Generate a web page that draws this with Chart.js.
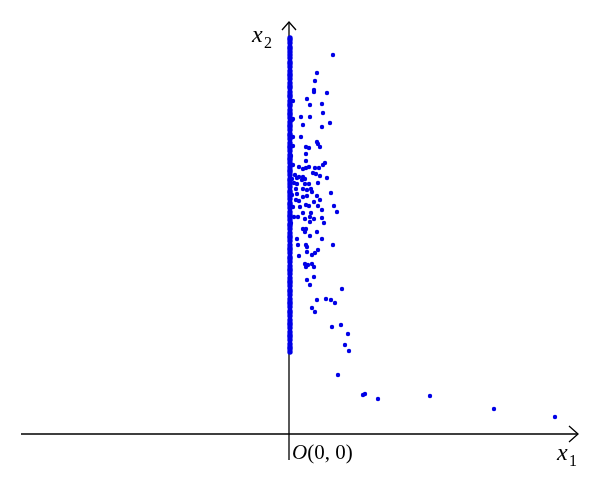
<!DOCTYPE html>
<html>
<head>
<meta charset="utf-8">
<script src="https://cdn.jsdelivr.net/npm/chart.js@4/dist/chart.umd.min.js"></script>
<style>
  html, body { margin: 0; padding: 0; background: #ffffff; }
  canvas { display: block; }
</style>
</head>
<body>
<canvas id="c" width="600" height="482"></canvas>
<script>
// ---- Data (x1, x2) ----
const scatterX1 = [4.4, 2.8, 2.6, 2.5, 2.5, 3.8, 0.4, 1.8, 2.1, 3.3, 0.3, 0.4, 1.2, 2.1, 3.4, 1.4, 3.3, 4.1,
  0.4, 1.2, 2.8, 2.9, 3.1, 0.4, 1.7, 2.0, 1.7, 0.2, 1.7, 3.6, 3.4, 0.4, 1.0, 1.4, 1.7, 2.0, 2.6, 3.0,
  2.4, 2.7, 3.1, 3.8, 0.6, 1.0, 1.4, 1.6, 0.3, 0.8, 1.3, 0.5, 0.8, 1.6, 2.0, 2.9, 0.7, 1.4, 1.8, 2.2,
  0.3, 0.8, 1.4, 1.8, 2.3, 2.8, 2.5, 4.2, 3.1, 0.7, 1.0, 1.7, 2.0, 1.1, 0.4, 2.9, 4.5, 1.4, 2.2, 2.1,
  0.9, 0.5, 3.3, 4.8, 1.6, 2.5, 3.3, 3.5, 2.1, 0.2, 1.4, 1.7, 1.6, 2.8, 2.1, 0.8, 3.3, 0.9, 1.7, 1.8,
  4.4, 2.9, 2.6, 2.3, 1.8, 1.0, 1.6, 1.9, 1.7, 2.3, 2.5, 1.8, 2.5, 2.1, 5.3, 2.8, 3.7, 4.2, 4.6, 2.3,
  2.6, 4.3, 5.2, 5.9, 5.6, 6.0, 4.9, 7.4, 7.6, 8.9, 14.1, 20.5, 26.6];
const scatterX2 = [37.9, 36.1, 35.3, 34.4, 34.2, 34.1, 33.3, 33.5, 32.9, 33.0, 31.4, 31.5, 31.7, 31.7, 32.1, 30.9, 30.7, 31.1,
  29.7, 29.7, 29.2, 29.0, 28.7, 28.8, 28.7, 28.6, 28.0, 27.8, 27.3, 27.1, 26.9, 26.9, 26.7, 26.5, 26.6, 26.7, 26.6, 26.6,
  26.1, 26.0, 25.8, 25.6, 25.9, 25.7, 25.7, 25.5, 25.5, 25.6, 25.4, 25.1, 25.0, 25.0, 25.0, 25.1, 24.5, 24.5, 24.4, 24.5,
  23.9, 24.0, 23.7, 23.8, 24.2, 23.8, 23.2, 24.1, 23.4, 23.4, 23.3, 22.9, 22.8, 22.7, 22.7, 22.8, 22.8, 22.1, 22.1, 21.7,
  21.7, 21.7, 22.4, 22.2, 21.5, 21.5, 21.6, 21.1, 21.2, 21.1, 20.5, 20.5, 20.2, 20.2, 19.8, 19.5, 19.5, 18.9, 18.9, 18.7,
  18.9, 18.4, 18.1, 17.9, 18.2, 17.8, 17.0, 16.9, 16.7, 17.0, 16.7, 15.4, 15.7, 14.9, 14.5, 13.4, 13.5, 13.4, 13.1, 12.6,
  12.2, 10.7, 10.9, 10.0, 8.9, 8.3, 5.9, 3.9, 4.0, 3.5, 3.8, 2.5, 1.7];

// dense column of points lying on the x2 axis
const bandX1 = 0.1;
const bandX2 = [39.6, 39.4, 39.1, 38.7, 38.5, 38.2, 37.9, 37.6, 37.2, 37.0, 36.7, 36.3, 36.0, 35.8, 35.5, 35.1,
  34.8, 34.6, 34.2, 33.9, 33.7, 33.3, 33.0, 32.8, 32.4, 32.1, 31.9, 31.6, 31.2, 30.9, 30.7, 30.4, 30.0, 29.8,
  29.5, 29.1, 28.8, 28.6, 28.3, 27.9, 27.6, 27.4, 27.1, 26.7, 26.4, 26.2, 25.9, 25.5, 25.3, 25.0, 24.7, 24.3,
  24.1, 23.8, 23.5, 23.1, 22.9, 22.6, 22.2, 21.9, 21.7, 21.4, 21.0, 20.8, 20.5, 20.1, 19.8, 19.6, 19.3, 18.9,
  18.6, 18.4, 18.1, 17.7, 17.5, 17.2, 16.8, 16.5, 16.3, 16.0, 15.6, 15.3, 15.1, 14.8, 14.4, 14.2, 13.9, 13.5,
  13.2, 13.0, 12.7, 12.3, 12.1, 11.8, 11.4, 11.1, 10.9, 10.6, 10.2, 9.9, 9.7, 9.4, 9.0, 8.7, 8.5, 8.2];

// axis extents (data units)
const axisX1Range = [-26.8, 28.9];
const axisX2Range = [-2.6, 41.2];

// ---- build datasets ----
const scatterPts = scatterX1.map((x, i) => ({ x: x, y: scatterX2[i] }));
const bandPts = bandX2.map(y => ({ x: bandX1, y: y }));

const BLUE = '#0000e6';

const axesPlugin = {
  id: 'arrowAxes',
  beforeDatasetsDraw(chart) {
    const ctx = chart.ctx;
    const xs = chart.scales.x, ys = chart.scales.y;
    const ox = xs.getPixelForValue(0), oy = ys.getPixelForValue(0);
    const xL = xs.getPixelForValue(axisX1Range[0]), xR = xs.getPixelForValue(axisX1Range[1]);
    const yB = ys.getPixelForValue(axisX2Range[0]), yT = ys.getPixelForValue(axisX2Range[1]);
    ctx.save();
    ctx.strokeStyle = '#000';
    ctx.lineWidth = 1.3;
    ctx.beginPath();
    ctx.moveTo(xL, oy); ctx.lineTo(xR, oy);
    ctx.moveTo(ox, yB); ctx.lineTo(ox, yT);
    ctx.stroke();
    // arrowheads
    ctx.beginPath();
    ctx.moveTo(xR - 9, oy - 8); ctx.lineTo(xR, oy); ctx.lineTo(xR - 9, oy + 8);
    ctx.moveTo(ox - 7, yT + 8); ctx.lineTo(ox, yT); ctx.lineTo(ox + 7, yT + 8);
    ctx.stroke();
    // labels
    ctx.fillStyle = '#000';
    ctx.textBaseline = 'alphabetic';
    ctx.textAlign = 'left';
    ctx.font = 'italic 24px "Liberation Serif", serif';
    ctx.fillText('x', ox - 37, yT + 20);
    ctx.font = '16px "Liberation Serif", serif';
    ctx.fillText('2', ox - 25, yT + 26);
    ctx.font = 'italic 24px "Liberation Serif", serif';
    ctx.fillText('x', xR - 21, oy + 26);
    ctx.font = '16px "Liberation Serif", serif';
    ctx.fillText('1', xR - 9, oy + 32);
    ctx.font = 'italic 21px "Liberation Serif", serif';
    ctx.fillText('O', ox + 3, oy + 25);
    const wO = ctx.measureText('O').width;
    ctx.font = '21px "Liberation Serif", serif';
    ctx.fillText('(0, 0)', ox + 3 + wO, oy + 25);
    ctx.restore();
  }
};

new Chart(document.getElementById('c'), {
  type: 'scatter',
  data: {
    datasets: [
      { data: bandPts, backgroundColor: BLUE, borderWidth: 0, pointRadius: 2.7 },
      { data: scatterPts, backgroundColor: BLUE, borderWidth: 0, pointRadius: 2.2 }
    ]
  },
  options: {
    responsive: false,
    animation: false,
    layout: { padding: 0, autoPadding: false },
    plugins: { legend: { display: false }, tooltip: { enabled: false } },
    scales: {
      x: { type: 'linear', display: false, min: -28.9, max: 31.1 },
      y: { type: 'linear', display: false, min: -4.8, max: 43.4 }
    }
  },
  plugins: [axesPlugin]
});
</script>
</body>
</html>
